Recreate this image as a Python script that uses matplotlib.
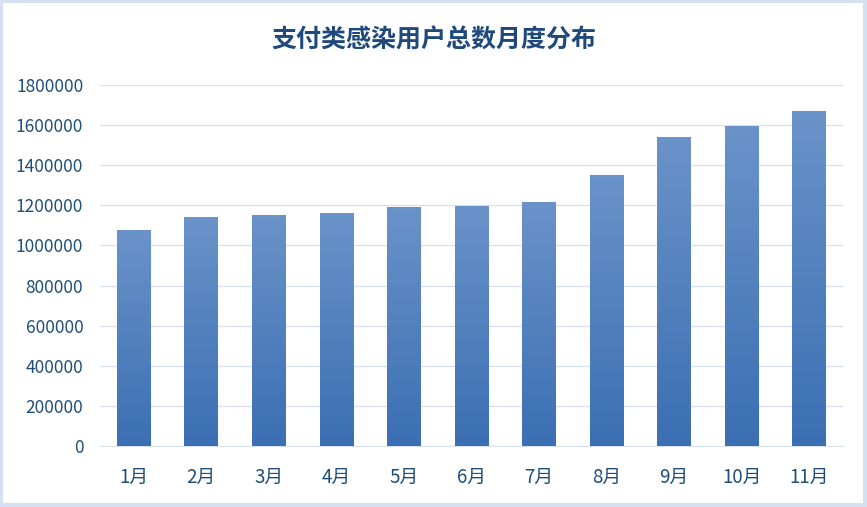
import numpy as np
import matplotlib.pyplot as plt
from matplotlib.patches import Rectangle

plt.rcParams['font.family'] = ['Noto Sans CJK SC', 'DejaVu Sans']

# data
months = ['1月', '2月', '3月', '4月', '5月', '6月', '7月', '8月', '9月', '10月', '11月']
users = [1077000, 1142000, 1152000, 1162000, 1192000, 1197000, 1217000,
         1352000, 1541000, 1596000, 1671000]
yticks = [0, 200000, 400000, 600000, 800000, 1000000, 1200000, 1400000, 1600000, 1800000]

text_color = '#1F4E79'
grid_color = '#D9E1EE'

fig = plt.figure(figsize=(8.67, 5.07), dpi=100)
ax = fig.add_axes([100 / 867, 61 / 507, 743 / 867, 361 / 507])

x = np.arange(len(months))
bars = ax.bar(x, users, width=0.5, color='none', zorder=3)

# vertical gradient in every bar, light at the top
grad = np.linspace(0, 1, 256).reshape(-1, 1)
cmap = plt.matplotlib.colors.LinearSegmentedColormap.from_list('g', ['#3B6FB3', '#6A93C9'])
for b in bars:
    x0, w, h = b.get_x(), b.get_width(), b.get_height()
    im = ax.imshow(grad, cmap=cmap, aspect='auto', origin='lower',
                   extent=(x0, x0 + w, 0, h), zorder=3)
    im.set_clip_path(b)

ax.set_xlim(-0.5, len(months) - 0.5)
ax.set_ylim(0, 1800000)
ax.set_yticks(yticks)
ax.set_yticklabels([str(v) for v in yticks])
ax.set_xticks(x)
ax.set_xticklabels(months)
ax.tick_params(axis='both', length=0, labelcolor=text_color)
ax.tick_params(axis='y', pad=12, labelsize=12.5)
ax.tick_params(axis='x', pad=15, labelsize=13.5)

ax.grid(axis='y', color=grid_color, linewidth=1, zorder=0)
for s in ['top', 'right', 'left']:
    ax.spines[s].set_visible(False)
ax.spines['bottom'].set_color(grid_color)

fig.text(0.5, 1 - 40 / 507, '支付类感染用户总数月度分布', ha='center', va='center',
         fontsize=18, fontweight='bold', color='#1F497D')

fig.patches.append(Rectangle((0.001, 0.003), 0.997, 0.995, transform=fig.transFigure,
                             fill=False, edgecolor='#D5E0F0', linewidth=3))

fig.savefig('out.png', dpi=100)
